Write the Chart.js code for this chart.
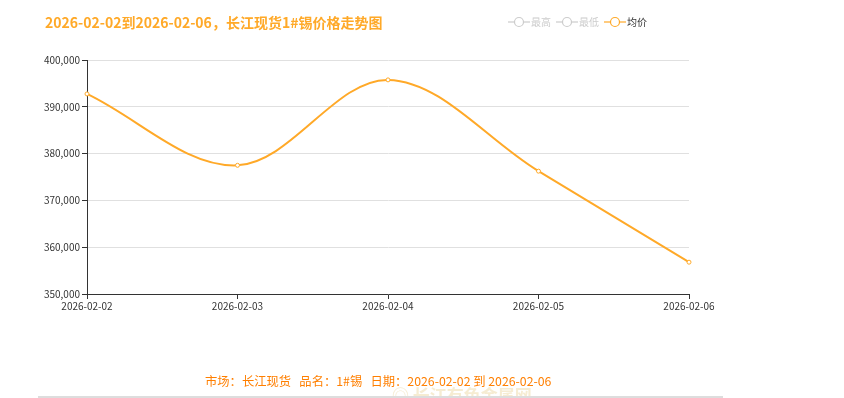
<!DOCTYPE html>
<html>
<head>
<meta charset="utf-8">
<script src="https://cdn.jsdelivr.net/npm/chart.js@4.4.1/dist/chart.umd.min.js"></script>
<style>
    body { margin: 0; background: #fff; width: 844px; height: 398px; overflow: hidden; position: relative; }
    #wrap { position: absolute; left: 0; top: 0; width: 844px; height: 398px; }
    #footer { position: absolute; left: 205px; top: 372px; font: 12.3px "Noto Sans CJK SC", sans-serif; color: #ff7f00; white-space: pre; }
    #rule { position: absolute; left: 38px; top: 396px; width: 685px; height: 2px; background: #ddd; }
    #mark { position: absolute; left: 392px; top: 382px; font: bold 17px "Noto Sans CJK SC", sans-serif; color: #f6ecd2; white-space: pre; }
</style>
</head>
<body>
<div id="wrap"><canvas id="priceChart" width="844" height="398"></canvas></div>
<div id="mark">◎ 长江有色金属网</div>
<div id="footer">市场：长江现货   品名：1#锡   日期：2026-02-02 到 2026-02-06</div>
<div id="rule"></div>
<script>
const titleText = '2026-02-02到2026-02-06，长江现货1#锡价格走势图';
const dates = ['2026-02-02', '2026-02-03', '2026-02-04', '2026-02-05', '2026-02-06'];
const avgPrice = [392750, 377500, 395750, 376250, 356800];
const highPrice = []; // hidden in the reference
const lowPrice = [];  // hidden in the reference
const legendNames = ['最高', '最低', '均价'];

const orange = '#ffa928';
const cjk = '"Noto Sans CJK SC", "Noto Sans", sans-serif';

// title + echarts-like legend drawn on the canvas
const headerPlugin = {
    id: 'header',
    afterDraw(chart) {
        const c = chart.ctx;
        c.save();
        c.font = 'bold 14px ' + cjk;
        c.fillStyle = orange;
        c.textBaseline = 'middle';
        c.textAlign = 'left';
        c.fillText(titleText, 45, 23);

        const startX = [508, 556, 604];
        c.font = '10px ' + cjk;
        chart.data.datasets.forEach((ds, i) => {
            const x = startX[i];
            const col = ds.hidden ? '#ccc' : orange;
            c.strokeStyle = col;
            c.lineWidth = 1.2;
            c.beginPath();
            c.moveTo(x, 22);
            c.lineTo(x + 22, 22);
            c.stroke();
            c.beginPath();
            c.arc(x + 11, 22, 4.5, 0, Math.PI * 2);
            c.fillStyle = '#fff';
            c.fill();
            c.stroke();
            c.fillStyle = ds.hidden ? '#ccc' : '#333';
            c.fillText(ds.label, x + 23, 22);
        });
        c.restore();
    }
};

const ctx = document.getElementById('priceChart').getContext('2d');
new Chart(ctx, {
    type: 'line',
    data: {
        labels: dates,
        datasets: [
            { label: legendNames[0], data: highPrice, hidden: true, borderColor: '#ccc' },
            { label: legendNames[1], data: lowPrice, hidden: true, borderColor: '#ccc' },
            {
                label: legendNames[2],
                data: avgPrice,
                borderColor: orange,
                borderWidth: 2,
                tension: 0.35,
                pointRadius: 2,
                pointBorderWidth: 1,
                pointBackgroundColor: '#fff',
                pointBorderColor: orange,
                fill: false
            }
        ]
    },
    options: {
        responsive: false,
        animation: false,
        layout: { padding: { left: 0, right: 155, top: 60, bottom: 84 } },
        plugins: {
            legend: { display: false },
            title: { display: false },
            tooltip: { enabled: false }
        },
        scales: {
            x: {
                offset: false,
                afterFit: s => { s.height = 20; },
                grid: { drawOnChartArea: false, tickColor: '#333', tickLength: 5 },
                border: { color: '#333' },
                ticks: { color: '#333', font: { size: 10, family: cjk }, padding: 1, maxRotation: 0 }
            },
            y: {
                min: 350000,
                max: 400000,
                afterFit: s => { s.width = 87; },
                grid: { color: '#e0e0e0', tickColor: '#333', tickLength: 5 },
                border: { color: '#333' },
                ticks: {
                    stepSize: 10000,
                    color: '#333',
                    padding: 2,
                    font: { size: 10, family: cjk },
                    callback: v => v.toLocaleString('en-US')
                }
            }
        }
    },
    plugins: [headerPlugin]
});
</script>
</body>
</html>
